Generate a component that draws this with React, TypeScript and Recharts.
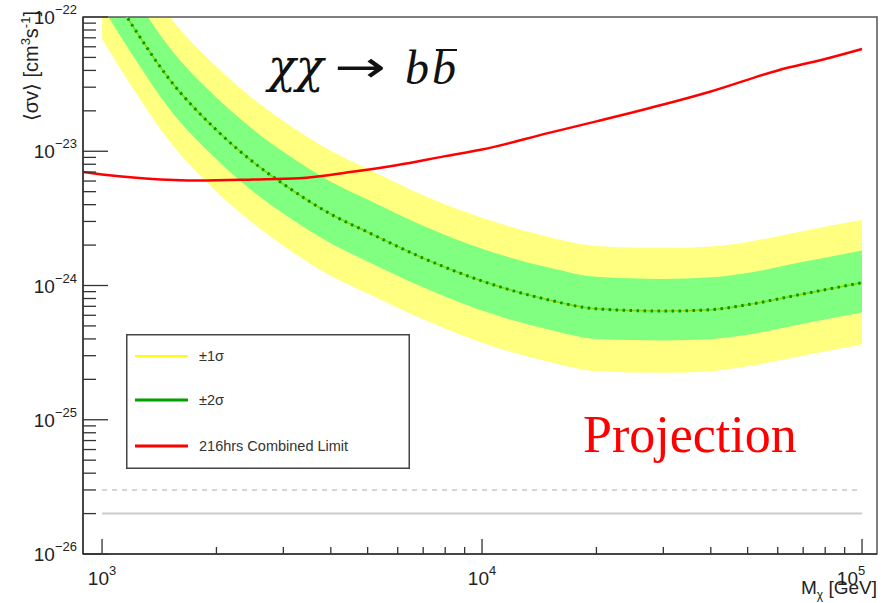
import React from "react";
import {
  ComposedChart,
  Area,
  Line,
  XAxis,
  YAxis,
  ReferenceLine,
  ReferenceArea,
  Legend,
} from "recharts";

// dark matter mass grid (GeV) for the expected limit and its bands
const mass = [1000, 1200, 1500, 2000, 2500, 3000, 4000, 5000, 7000, 10000, 15000, 20000, 30000, 40000, 50000, 70000, 100000];
const expected = [2.0e-22, 8.7e-23, 3.47e-23, 1.44e-23, 8.3e-24, 5.7e-24, 3.4e-24, 2.5e-24, 1.6e-24, 1.08e-24, 7.8e-25, 6.7e-25, 6.45e-25, 6.6e-25, 7.2e-25, 8.65e-25, 1.05e-24];
const greenLo = [1.2e-22, 5.25e-23, 2.09e-23, 8.7e-24, 5.0e-24, 3.44e-24, 2.06e-24, 1.51e-24, 9.7e-25, 6.5e-25, 4.7e-25, 4.0e-25, 3.9e-25, 4.0e-25, 4.3e-25, 5.2e-25, 6.3e-25];
const greenHi = [3.47e-22, 1.51e-22, 6.0e-23, 2.51e-23, 1.45e-23, 9.9e-24, 5.93e-24, 4.37e-24, 2.79e-24, 1.88e-24, 1.36e-24, 1.16e-24, 1.12e-24, 1.15e-24, 1.24e-24, 1.5e-24, 1.82e-24];
const yellowLo = [6.9e-23, 3.0e-23, 1.2e-23, 5.0e-24, 2.9e-24, 1.98e-24, 1.18e-24, 8.7e-25, 5.6e-25, 3.75e-25, 2.7e-25, 2.3e-25, 2.24e-25, 2.3e-25, 2.5e-25, 3.0e-25, 3.63e-25];
const yellowHi = [5.9e-22, 2.57e-22, 1.02e-22, 4.27e-23, 2.45e-23, 1.68e-23, 1.01e-23, 7.4e-24, 4.7e-24, 3.2e-24, 2.3e-24, 1.97e-24, 1.9e-24, 1.95e-24, 2.11e-24, 2.55e-24, 3.09e-24];

// 216 h combined limit
const limitMass = [891, 1000, 1300, 1800, 2500, 3300, 4500, 6000, 8000, 10000, 15000, 20000, 30000, 40000, 60000, 80000, 100000];
const limit = [7.0e-24, 6.7e-24, 6.27e-24, 6.05e-24, 6.16e-24, 6.3e-24, 7.0e-24, 7.9e-24, 9.2e-24, 1.03e-23, 1.37e-23, 1.67e-23, 2.23e-23, 2.79e-23, 4.0e-23, 4.87e-23, 5.78e-23];

// horizontal reference levels: dashed and solid
const refDashed = 3e-26;
const refSolid = 2e-26;
const refRange = [1000, 100000];

const xDomain = [891, 109500];
const yDomain = [1e-26, 1e-22];

const xTicks: number[] = [];
for (const d of [1000, 10000]) for (let k = 1; k <= 9; k++) xTicks.push(d * k);
xTicks.push(100000);
const yTicks: number[] = [];
for (const d of [1e-26, 1e-25, 1e-24, 1e-23]) for (let k = 1; k <= 9; k++) yTicks.push(d * k);
yTicks.push(1e-22);

const legendItems = [
  { label: "±1σ", color: "#ffff00", width: 2 },
  { label: "±2σ", color: "#00a000", width: 3 },
  { label: "216hrs Combined Limit", color: "#ff0000", width: 3 },
];

const data = mass.map((m, i) => ({
  m,
  expected: expected[i],
  green: [greenLo[i], greenHi[i]],
  yellow: [yellowLo[i], yellowHi[i]],
}));
const limitData = limitMass.map((m, i) => ({ m, limit: limit[i] }));

const sans = "'Liberation Sans', Arial, Helvetica, sans-serif";
const serif = "'Liberation Serif', 'Times New Roman', serif";
const axisColor = "#333";

const isDecade = (v: number) => {
  const e = Math.log10(v);
  return Math.abs(e - Math.round(e)) < 1e-6;
};

function XTick(props: any) {
  const { x, y, payload } = props;
  const v = payload.value;
  const major = isDecade(v);
  const e = Math.round(Math.log10(v));
  const shift = v >= 100000 ? -11 : 0;
  return (
    <g>
      <line x1={x} x2={x} y1={y} y2={y - (major ? 15 : 7)} stroke={axisColor} strokeWidth={1.3} />
      {major && (
        <text x={x + shift} y={y + 31} textAnchor="middle" fontFamily={sans} fontSize={19} fill="#222">
          10<tspan dy={-10} fontSize={13}>{e}</tspan>
        </text>
      )}
    </g>
  );
}

function YTick(props: any) {
  const { x, y, payload } = props;
  const v = payload.value;
  const major = isDecade(v);
  const e = Math.round(Math.log10(v));
  return (
    <g>
      <line x1={x} x2={x + (major ? 25 : 13)} y1={y} y2={y} stroke={axisColor} strokeWidth={1.3} />
      {major && (
        <text x={x - 6} y={y + 7} textAnchor="end" fontFamily={sans} fontSize={19} fill="#222">
          10<tspan dy={-10} fontSize={13}>{"−" + Math.abs(e)}</tspan>
        </text>
      )}
    </g>
  );
}

function LegendBox() {
  return (
    <svg width={284} height={135} style={{ display: "block" }}>
      <rect x={0.75} y={0.75} width={282.5} height={133.5} fill="#fff" stroke="#444" strokeWidth={1.5} />
      {legendItems.map((it, i) => {
        const cy = [22, 66, 112][i];
        return (
          <g key={it.label}>
            <line x1={9} x2={62} y1={cy} y2={cy} stroke={it.color} strokeWidth={it.width} />
            <text x={73} y={cy + 5} fontFamily={sans} fontSize={14.5} fill="#333">
              {it.label}
            </text>
          </g>
        );
      })}
    </svg>
  );
}

export default function App() {
  return (
    <div style={{ position: "absolute", left: 0, top: 0, width: 886, height: 603, background: "#fff" }}>
      <ComposedChart
        width={886}
        height={603}
        data={data}
        margin={{ top: 17, right: 9, bottom: 19, left: 23 }}
      >
        <XAxis
          dataKey="m"
          type="number"
          scale="log"
          domain={xDomain}
          allowDataOverflow
          ticks={xTicks}
          interval={0}
          height={30}
          tickSize={0}
          tickMargin={0}
          tickLine={false}
          axisLine={{ stroke: axisColor, strokeWidth: 1.5 }}
          tick={<XTick />}
        />
        <YAxis
          type="number"
          scale="log"
          domain={yDomain}
          allowDataOverflow
          ticks={yTicks}
          interval={0}
          width={60}
          tickSize={0}
          tickMargin={0}
          tickLine={false}
          axisLine={{ stroke: axisColor, strokeWidth: 1.5 }}
          tick={<YTick />}
        />
        <Area
          dataKey="yellow"
          type="monotone"
          fill="#ffff80"
          fillOpacity={1}
          stroke="none"
          isAnimationActive={false}
        />
        <Area
          dataKey="green"
          type="monotone"
          fill="#80ff80"
          fillOpacity={1}
          stroke="none"
          isAnimationActive={false}
        />
        <Line
          dataKey="expected"
          type="monotone"
          stroke="#8fd400"
          strokeWidth={1.5}
          dot={false}
          isAnimationActive={false}
        />
        <Line
          dataKey="expected"
          type="monotone"
          stroke="#009a00"
          strokeWidth={3}
          strokeDasharray="2.5 4.5"
          dot={false}
          isAnimationActive={false}
        />
        <Line
          data={limitData}
          dataKey="limit"
          type="monotone"
          stroke="#ff0000"
          strokeWidth={2.5}
          dot={false}
          isAnimationActive={false}
        />
        <ReferenceLine
          segment={[{ x: refRange[0], y: refDashed }, { x: refRange[1], y: refDashed }]}
          stroke="#c8c8c8"
          strokeWidth={1.5}
          strokeDasharray="5 5"
        />
        <ReferenceLine
          segment={[{ x: refRange[0], y: refSolid }, { x: refRange[1], y: refSolid }]}
          stroke="#cccccc"
          strokeWidth={2}
        />
        <ReferenceArea
          x1={xDomain[0]}
          x2={xDomain[1]}
          y1={yDomain[0]}
          y2={yDomain[1]}
          fill="none"
          stroke="#555"
          strokeWidth={1.5}
          ifOverflow="visible"
        />
        <Legend
          layout="horizontal"
          verticalAlign="middle"
          align="center"
          wrapperStyle={{ left: 126, top: 334, width: 284, height: 135 }}
          content={() => <LegendBox />}
        />
      </ComposedChart>
      <svg
        width={886}
        height={603}
        style={{ position: "absolute", left: 0, top: 0, pointerEvents: "none" }}
      >
        <text transform="translate(38,11) rotate(-90)" textAnchor="end" fontFamily={`${sans}, 'DejaVu Sans'`} fontSize={20} fill="#222">
          ⟨σv⟩ [cm<tspan dy={-8} fontSize={13}>3</tspan>
          <tspan dy={8}>s</tspan>
          <tspan dy={-8} fontSize={13}>-1</tspan>
          <tspan dy={8}>]</tspan>
        </text>
        <text x={877} y={594} textAnchor="end" fontFamily={sans} fontSize={19} fill="#222">
          M<tspan dy={5} fontSize={12}>χ</tspan>
          <tspan dy={-5}> [GeV]</tspan>
        </text>
        <g fill="#111">
          <text x={268} y={82} fontFamily="'DejaVu Serif', serif" fontStyle="italic" fontSize={46}>χχ</text>
          <text transform="translate(334,82) scale(1.4,1)" fontFamily="'DejaVu Sans', sans-serif" fontSize={44}>→</text>
          <text x={405} y={84} fontFamily={serif} fontStyle="italic" fontSize={48}>b</text>
          <text x={432} y={84} fontFamily={serif} fontStyle="italic" fontSize={48}>b</text>
          <line x1={436} x2={457} y1={50} y2={50} stroke="#111" strokeWidth={2} />
        </g>
        <text x={583} y={452} fontFamily={serif} fontSize={52} fill="#ff0000">
          Projection
        </text>
      </svg>
    </div>
  );
}
